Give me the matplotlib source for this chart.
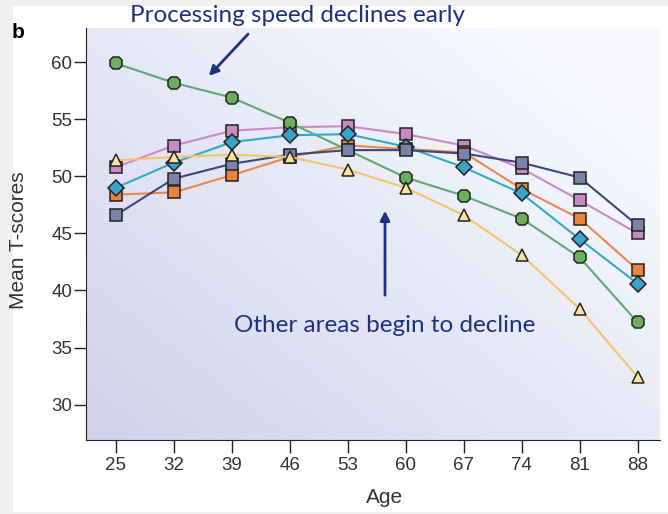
import numpy as np
import matplotlib.pyplot as plt
from matplotlib.patches import Rectangle

ages = [25, 32, 39, 46, 53, 60, 67, 74, 81, 88]

# mean T-scores per ability
speed = [59.9, 58.2, 56.9, 54.7, 52.3, 49.9, 48.3, 46.3, 42.9, 37.2]
triangles = [51.4, 51.7, 51.9, 51.7, 50.6, 49.0, 46.6, 43.1, 38.4, 32.4]
pink = [50.8, 52.7, 54.0, 54.3, 54.4, 53.7, 52.7, 50.7, 47.9, 45.0]
navy = [46.6, 49.8, 51.1, 51.9, 52.3, 52.3, 52.0, 51.2, 49.9, 45.7]
orange = [48.4, 48.6, 50.1, 51.7, 52.7, 52.4, 52.1, 48.9, 46.3, 41.8]
cyan = [49.0, 51.2, 53.0, 53.6, 53.7, 52.6, 50.8, 48.5, 44.5, 40.6]

txt_blue = '#1b3282'
narrow = ['Liberation Sans Narrow', 'Liberation Sans']

fig = plt.figure(figsize=(6.68, 5.14), dpi=100, facecolor='#f0f0f0')
fig.patches.append(Rectangle((13/668, 0.004), 1, 1 - 6/514 - 0.004,
                             transform=fig.transFigure, facecolor='white',
                             edgecolor='none', zorder=-5))

ax = fig.add_axes([86/668, 1 - 440/514, (660 - 86)/668, (440 - 28)/514])
ax.set_xlim(21.4, 90.7)
ax.set_ylim(26.9, 63.0)

# soft lavender-to-white gradient background
gx, gy = np.meshgrid(np.linspace(0, 1, 200), np.linspace(0, 1, 200))
t = np.clip(0.6 * gx + 0.55 * gy, 0, 1)
c0 = np.array([0.82, 0.82, 0.92])
c1 = np.array([0.97, 0.98, 1.0])
img = c0[None, None, :] * (1 - t[..., None]) + c1[None, None, :] * t[..., None]
ax.imshow(img, extent=[0, 1, 0, 1], transform=ax.transAxes, origin='lower',
          aspect='auto', zorder=0)

def series(vals, lc, fc, mk, ms):
    ax.plot(ages, vals, color=lc, lw=1.5, marker=mk, markersize=ms,
            markerfacecolor=fc, markeredgecolor='#222222', markeredgewidth=1.1,
            zorder=3)

series(pink, '#c98ac4', '#c48cc0', 's', 9)
series(orange, '#e8884a', '#e8843c', 's', 9)
series(speed, '#5fa872', '#6cae5c', '8', 10)
series(cyan, '#34a8c8', '#3aa4c8', 'D', 8)
series(navy, '#3b4878', '#7c82aa', 's', 9)
series(triangles, '#f2c56a', '#f7e4a0', '^', 9)

for side in ['top', 'right']:
    ax.spines[side].set_visible(False)
ax.spines['left'].set_color('#222222')
ax.spines['bottom'].set_color('#222222')

ax.set_xticks(ages)
ax.set_yticks([30, 35, 40, 45, 50, 55, 60])
ax.tick_params(direction='out', length=9, width=1, colors='#222222',
               labelcolor='#333333', labelsize=13.5)
ax.tick_params(axis='y', pad=1)
ax.tick_params(axis='x', pad=3)
for lab in ax.get_xticklabels() + ax.get_yticklabels():
    lab.set_family(narrow)

ax.set_xlabel('Age', fontsize=15, color='#333333', family=narrow)
ax.xaxis.set_label_coords((385 - 86) / 574, -(488 - 440) / 412)
ax.set_ylabel('Mean T-scores', fontsize=15, color='#333333', family=narrow)
ax.yaxis.set_label_coords(-(86 - 28) / 574, 1 - (240 - 28) / 412)

fig.text(12/668, 1 - 33/514, 'b', fontsize=15, fontweight='bold', va='center',
         family='Liberation Sans')

fig.text(298/668, 1 - 16/514, 'Processing speed declines early', fontsize=17.5,
         color=txt_blue, ha='center', va='center', family='Lato')
fig.text(385/668, 1 - 326/514, 'Other areas begin to decline', fontsize=17.5,
         color=txt_blue, ha='center', va='center', family='Lato')

ax.annotate('', xy=(207, 514 - 78), xytext=(250, 514 - 32),
            xycoords='figure pixels', textcoords='figure pixels',
            arrowprops=dict(arrowstyle='-|>', color=txt_blue, lw=2,
                            mutation_scale=14))
ax.annotate('', xy=(385, 514 - 208), xytext=(385, 514 - 298),
            xycoords='figure pixels', textcoords='figure pixels',
            arrowprops=dict(arrowstyle='-|>', color=txt_blue, lw=2,
                            mutation_scale=14))

fig.savefig('out.png', dpi=100, facecolor=fig.get_facecolor())
